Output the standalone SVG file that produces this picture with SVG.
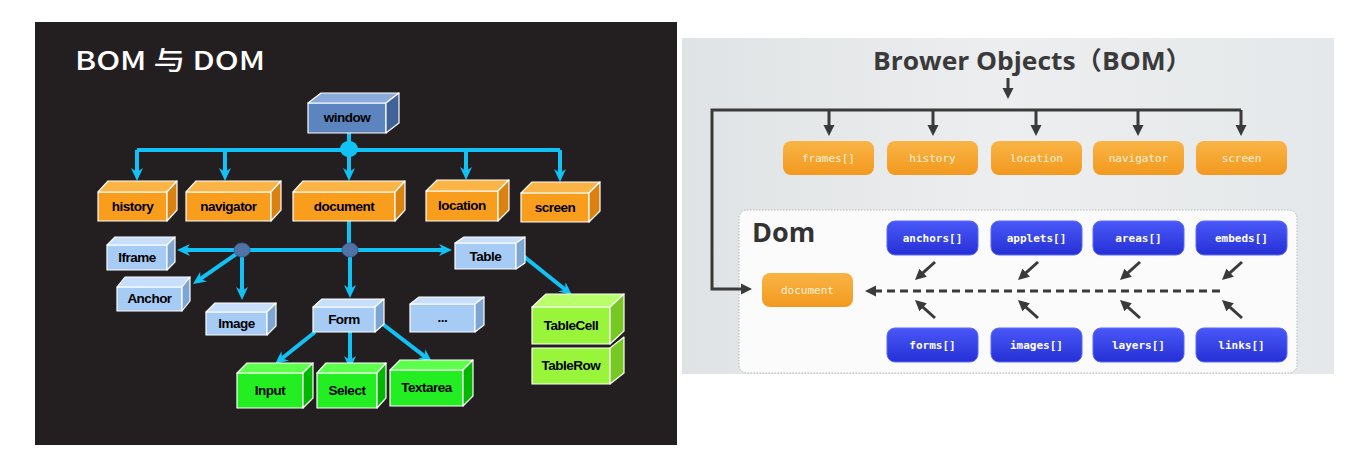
<svg xmlns="http://www.w3.org/2000/svg" width="1352" height="456" viewBox="0 0 1352 456">
<style>
.lbl{font-family:"Liberation Sans",Arial,sans-serif;font-weight:bold;font-size:13.5px;fill:#000;text-anchor:middle;letter-spacing:-0.5px}
.edge{stroke:#fff;stroke-width:1.2;stroke-linejoin:round}
.or .f{fill:#f99d1c}.or .t{fill:#fbb547}.or .s{fill:#d9820f}
.wi .f{fill:#5c85bf}.wi .t{fill:#8aabd9}.wi .s{fill:#3f6398}
.lb .f{fill:#a6cbf5}.lb .t{fill:#c8dffb}.lb .s{fill:#7ea6d3}
.gr .f{fill:#22ee22}.gr .t{fill:#5cff4c}.gr .s{fill:#00b800}
.li .f{fill:#99f53a}.li .t{fill:#b8ff6a}.li .s{fill:#78c824}
.cy{stroke:#12c2f4;stroke-width:4;fill:none;marker-end:url(#ca)}
.cyl{stroke:#12c2f4;stroke-width:4;fill:none}
.dk{stroke:#3a3a3a;stroke-width:3;fill:none;marker-end:url(#da)}
.ob{fill:url(#og)}
.bb{fill:url(#bg);stroke:#5a68ff;stroke-width:1}
.mono{font-family:"DejaVu Sans Mono","Liberation Mono",monospace;font-size:11px;text-anchor:middle}
.mo{fill:#fff1d8}
.mb{fill:#fff;font-weight:bold}
</style>
<defs>
<marker id="ca" markerUnits="userSpaceOnUse" markerWidth="14" markerHeight="14" refX="7" refY="7" orient="auto">
<path d="M0,1 L13,7 L0,13 L4,7 z" fill="#12c2f4"/>
</marker>
<marker id="da" markerUnits="userSpaceOnUse" markerWidth="12" markerHeight="12" refX="6" refY="6" orient="auto">
<path d="M0,0.5 L11,6 L0,11.5 z" fill="#3a3a3a"/>
</marker>
<linearGradient id="og" x1="0" y1="0" x2="0" y2="1">
<stop offset="0" stop-color="#f9b445"/><stop offset="1" stop-color="#f2991f"/>
</linearGradient>
<linearGradient id="bg" x1="0" y1="0" x2="0" y2="1">
<stop offset="0" stop-color="#4a58f8"/><stop offset="1" stop-color="#2530d4"/>
</linearGradient>
<linearGradient id="pg" x1="0" y1="0" x2="1" y2="0">
<stop offset="0" stop-color="#e0e3e5"/><stop offset="0.5" stop-color="#eceeef"/><stop offset="1" stop-color="#e5e8ea"/>
</linearGradient>
</defs>
<rect width="1352" height="456" fill="#fff"/>
<!-- LEFT PANEL -->
<rect x="35" y="22" width="642" height="423" fill="#231f20"/>
<text x="75" y="70" font-family="'Noto Sans CJK SC','Noto Sans',sans-serif" font-size="26" font-weight="500" fill="#fff" textLength="190" lengthAdjust="spacingAndGlyphs">BOM 与 DOM</text>

<g id="left-connectors">
<path class="cyl" d="M349,133 V150"/>
<path class="cyl" d="M137,150 H560"/>
<path class="cy" d="M137,150 V175"/>
<path class="cy" d="M225,150 V175"/>
<path class="cy" d="M349,150 V175"/>
<path class="cy" d="M466,150 V174"/>
<path class="cy" d="M560,150 V176"/>
<ellipse cx="349" cy="149" rx="9" ry="8" fill="#12c2f4"/>
<path class="cyl" d="M349,221 V250"/>
<path class="cy" d="M350,250 H183"/>
<path class="cy" d="M350,250 H446"/>
<path class="cy" d="M242,250 L197.9,280.6"/>
<path class="cy" d="M242,250 V294"/>
<path class="cy" d="M350,250 V292"/>
<path class="cy" d="M522,255 L567.3,291.3"/>
<path class="cy" d="M315,332 L279.7,360.3"/>
<path class="cy" d="M350,332 V363"/>
<path class="cy" d="M380,322 L427.2,358.3"/>
<ellipse cx="242" cy="250" rx="8" ry="7" fill="#4f73a6" stroke="#3b5f92" stroke-width="1"/>
<ellipse cx="350" cy="250" rx="8" ry="7" fill="#4f73a6" stroke="#3b5f92" stroke-width="1"/>
</g>

<g id="window" class="wi">
<rect class="f edge" x="308" y="103" width="78" height="30"/>
<polygon class="t edge" points="308,103 321,93 399,93 386,103"/>
<polygon class="s edge" points="386,103 399,93 399,123 386,133"/>
<text class="lbl" x="347" y="122">window</text>
</g>
<g id="history" class="or">
<rect class="f edge" x="98" y="192" width="69" height="29"/>
<polygon class="t edge" points="98,192 108,181 177,181 167,192"/>
<polygon class="s edge" points="167,192 177,181 177,210 167,221"/>
<text class="lbl" x="132.5" y="211">history</text>
</g>
<g id="navigator" class="or">
<rect class="f edge" x="186" y="192" width="85" height="29"/>
<polygon class="t edge" points="186,192 196,181 281,181 271,192"/>
<polygon class="s edge" points="271,192 281,181 281,210 271,221"/>
<text class="lbl" x="228.5" y="211">navigator</text>
</g>
<g id="document-l" class="or">
<rect class="f edge" x="293" y="192" width="102" height="29"/>
<polygon class="t edge" points="293,192 303,181 405,181 395,192"/>
<polygon class="s edge" points="395,192 405,181 405,210 395,221"/>
<text class="lbl" x="344" y="211">document</text>
</g>
<g id="location-l" class="or">
<rect class="f edge" x="426" y="191" width="72" height="30"/>
<polygon class="t edge" points="426,191 437,180 509,180 498,191"/>
<polygon class="s edge" points="498,191 509,180 509,210 498,221"/>
<text class="lbl" x="462" y="210">location</text>
</g>
<g id="screen-l" class="or">
<rect class="f edge" x="521" y="193" width="68" height="29"/>
<polygon class="t edge" points="521,193 532,182 600,182 589,193"/>
<polygon class="s edge" points="589,193 600,182 600,211 589,222"/>
<text class="lbl" x="555" y="212">screen</text>
</g>
<g id="iframe" class="lb">
<rect class="f edge" x="107" y="245" width="60" height="25"/>
<polygon class="t edge" points="107,245 115,237 175,237 167,245"/>
<polygon class="s edge" points="167,245 175,237 175,262 167,270"/>
<text class="lbl" x="137" y="262">Iframe</text>
</g>
<g id="anchor" class="lb">
<rect class="f edge" x="117" y="287" width="65" height="24"/>
<polygon class="t edge" points="117,287 125,277 190,277 182,287"/>
<polygon class="s edge" points="182,287 190,277 190,301 182,311"/>
<text class="lbl" x="149.5" y="303">Anchor</text>
</g>
<g id="image" class="lb">
<rect class="f edge" x="206" y="312" width="61" height="23"/>
<polygon class="t edge" points="206,312 215,303 276,303 267,312"/>
<polygon class="s edge" points="267,312 276,303 276,326 267,335"/>
<text class="lbl" x="236.5" y="328">Image</text>
</g>
<g id="form" class="lb">
<rect class="f edge" x="313" y="307" width="62" height="25"/>
<polygon class="t edge" points="313,307 322,299 384,299 375,307"/>
<polygon class="s edge" points="375,307 384,299 384,324 375,332"/>
<text class="lbl" x="344" y="324">Form</text>
</g>
<g id="more" class="lb">
<rect class="f edge" x="410" y="304" width="65" height="28"/>
<polygon class="t edge" points="410,304 419,297 484,297 475,304"/>
<polygon class="s edge" points="475,304 484,297 484,325 475,332"/>
<text class="lbl" x="442.5" y="322">...</text>
</g>
<g id="table" class="lb">
<rect class="f edge" x="455" y="243" width="61" height="26"/>
<polygon class="t edge" points="455,243 464,237 525,237 516,243"/>
<polygon class="s edge" points="516,243 525,237 525,263 516,269"/>
<text class="lbl" x="485.5" y="261">Table</text>
</g>
<g id="input" class="gr">
<rect class="f edge" x="237" y="373" width="66" height="35"/>
<polygon class="t edge" points="237,373 247,363 313,363 303,373"/>
<polygon class="s edge" points="303,373 313,363 313,398 303,408"/>
<text class="lbl" x="270" y="395">Input</text>
</g>
<g id="select" class="gr">
<rect class="f edge" x="317" y="373" width="60" height="35"/>
<polygon class="t edge" points="317,373 326,363 386,363 377,373"/>
<polygon class="s edge" points="377,373 386,363 386,398 377,408"/>
<text class="lbl" x="347" y="395">Select</text>
</g>
<g id="textarea" class="gr">
<rect class="f edge" x="390" y="370" width="73" height="36"/>
<polygon class="t edge" points="390,370 400,360 473,360 463,370"/>
<polygon class="s edge" points="463,370 473,360 473,396 463,406"/>
<text class="lbl" x="426.5" y="392">Textarea</text>
</g>
<g id="tablerow" class="li">
<rect class="f edge" x="532" y="348" width="78" height="36"/>
<polygon class="s edge" points="610,348 624,337 624,373 610,384"/>
<text class="lbl" x="571" y="370">TableRow</text>
</g>
<g id="tablecell" class="li">
<rect class="f edge" x="532" y="307" width="78" height="37"/>
<polygon class="t edge" points="532,307 546,294 624,294 610,307"/>
<polygon class="s edge" points="610,307 624,294 624,331 610,344"/>
<text class="lbl" x="571" y="330">TableCell</text>
</g>

<!-- RIGHT PANEL -->
<rect x="682" y="38" width="652" height="336" fill="url(#pg)"/>
<text x="873" y="70" font-family="'Open Sans','Noto Sans CJK SC',sans-serif" font-size="25" font-weight="bold" fill="#3a3a3a" textLength="319" lengthAdjust="spacingAndGlyphs">Brower Objects（BOM）</text>
<g id="dom-box">
<rect x="739" y="210" width="558" height="163" rx="8" fill="#fbfbfb" stroke="#b8b8b8" stroke-width="1" stroke-dasharray="1.5 1.5"/>
<text x="752" y="242" font-family="'Open Sans','Liberation Sans',sans-serif" font-size="27" font-weight="bold" fill="#333">Dom</text>
</g>

<g id="right-connectors">
<path class="dk" d="M1008,78 V94"/>
<path class="dk" d="M1241,110 H712 V289 H747"/>
<path class="dk" d="M829,110 V131"/>
<path class="dk" d="M933,110 V131"/>
<path class="dk" d="M1036,110 V131"/>
<path class="dk" d="M1138,110 V131"/>
<path class="dk" d="M1241,110 V131"/>
<path d="M1220,291 H870" stroke="#3a3a3a" stroke-width="3" fill="none" stroke-dasharray="8 5" marker-end="url(#da)"/>
<path class="dk" d="M935,262 L918.7,276.7"/>
<path class="dk" d="M1038,262 L1021.7,276.7"/>
<path class="dk" d="M1140,262 L1123.7,276.7"/>
<path class="dk" d="M1242,262 L1225.7,276.7"/>
<path class="dk" d="M935,318 L918.7,303.3"/>
<path class="dk" d="M1038,318 L1021.7,303.3"/>
<path class="dk" d="M1140,318 L1123.7,303.3"/>
<path class="dk" d="M1242,318 L1225.7,303.3"/>
</g>

<g id="frames"><rect class="ob" x="783" y="141" width="91" height="34" rx="8"/><text class="mono mo" x="828.5" y="162">frames[]</text></g>
<g id="history-r"><rect class="ob" x="887" y="141" width="91" height="34" rx="8"/><text class="mono mo" x="932.5" y="162">history</text></g>
<g id="location-r"><rect class="ob" x="991" y="141" width="91" height="34" rx="8"/><text class="mono mo" x="1036.5" y="162">location</text></g>
<g id="navigator-r"><rect class="ob" x="1093" y="141" width="91" height="34" rx="8"/><text class="mono mo" x="1138.5" y="162">navigator</text></g>
<g id="screen-r"><rect class="ob" x="1196" y="141" width="91" height="34" rx="8"/><text class="mono mo" x="1241.5" y="162">screen</text></g>
<g id="document-r"><rect class="ob" x="762" y="273" width="91" height="34" rx="8"/><text class="mono mo" x="807.5" y="294">document</text></g>

<g id="anchors"><rect class="bb" x="887" y="221" width="91" height="34" rx="8"/><text class="mono mb" x="932.5" y="242">anchors[]</text></g>
<g id="applets"><rect class="bb" x="991" y="221" width="91" height="34" rx="8"/><text class="mono mb" x="1036.5" y="242">applets[]</text></g>
<g id="areas"><rect class="bb" x="1093" y="221" width="91" height="34" rx="8"/><text class="mono mb" x="1138.5" y="242">areas[]</text></g>
<g id="embeds"><rect class="bb" x="1196" y="221" width="91" height="34" rx="8"/><text class="mono mb" x="1241.5" y="242">embeds[]</text></g>
<g id="forms"><rect class="bb" x="887" y="328" width="91" height="34" rx="8"/><text class="mono mb" x="932.5" y="349">forms[]</text></g>
<g id="images"><rect class="bb" x="991" y="328" width="91" height="34" rx="8"/><text class="mono mb" x="1036.5" y="349">images[]</text></g>
<g id="layers"><rect class="bb" x="1093" y="328" width="91" height="34" rx="8"/><text class="mono mb" x="1138.5" y="349">layers[]</text></g>
<g id="links"><rect class="bb" x="1196" y="328" width="91" height="34" rx="8"/><text class="mono mb" x="1241.5" y="349">links[]</text></g>
</svg>
